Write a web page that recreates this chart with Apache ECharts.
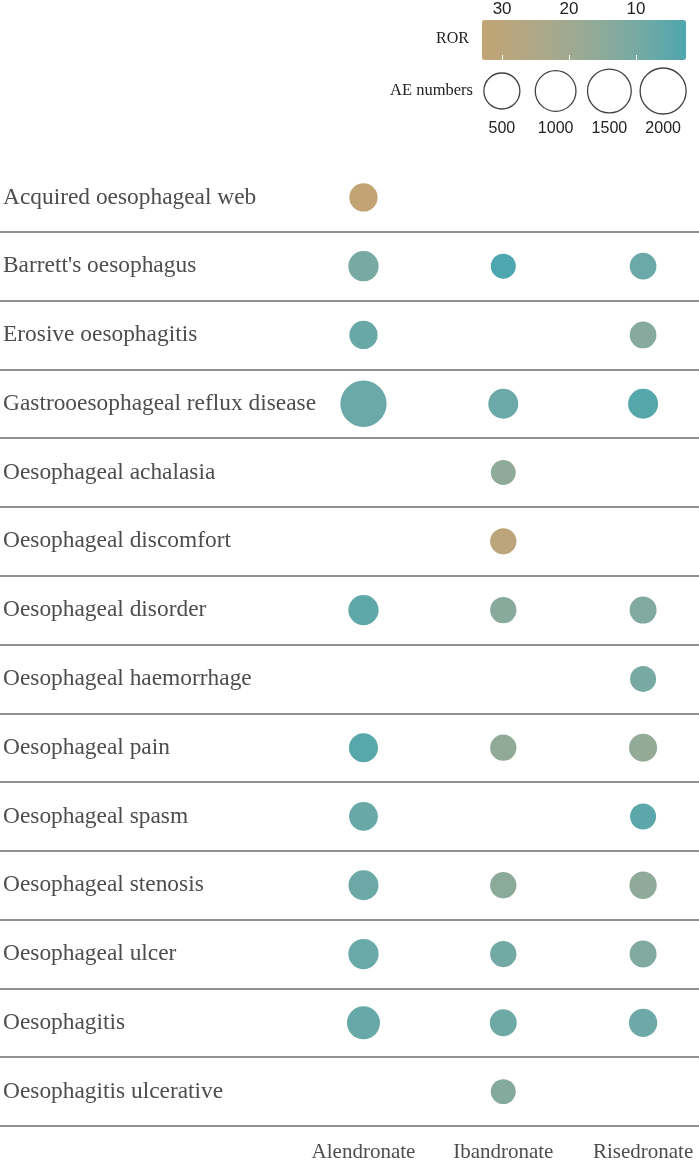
<!DOCTYPE html>
<html>
<head>
<meta charset="utf-8">
<script src="https://cdn.jsdelivr.net/npm/echarts@6/dist/echarts.min.js"></script>
<style>html,body{margin:0;padding:0;background:#fff}#c{width:699px;height:1163px}</style>
</head>
<body>
<div id="c"></div>
<script>
const categories = [
  "Acquired oesophageal web", "Barrett's oesophagus", "Erosive oesophagitis",
  "Gastrooesophageal reflux disease", "Oesophageal achalasia", "Oesophageal discomfort",
  "Oesophageal disorder", "Oesophageal haemorrhage", "Oesophageal pain",
  "Oesophageal spasm", "Oesophageal stenosis", "Oesophageal ulcer",
  "Oesophagitis", "Oesophagitis ulcerative"
];
const drugs = ["Alendronate", "Ibandronate", "Risedronate"];

// AE numbers per drug (null = no signal)
const aeAlendronate = [128, 189, 128, 2072, null, null, 189, null, 147, 139, 178, 189, 306, null];
const aeIbandronate = [null, 63, null, 178, 63, 85, 85, null, 85, null, 85, 85, 98, 63];
const aeRisedronate = [null, 92, 92, 178, null, null, 98, 80, 121, 80, 105, 98, 128, null];

// ROR per drug
const rorAlendronate = [33.0, 10.1, 7.2, 7.6, null, null, 5.6, null, 4.3, 7.2, 8.0, 7.4, 7.0, null];
const rorIbandronate = [null, 2.54, null, 7.6, 15.6, 30.5, 13.7, null, 16.0, null, 14.9, 9.0, 8.6, 13.0];
const rorRisedronate = [null, 7.6, 13.5, 3.8, null, null, 12.0, 10.1, 16.6, 5.0, 15.8, 12.0, 8.2, null];

const rorTicks = [10, 20, 30];
const sizeLegendValues = [500, 1000, 1500, 2000];

const aeByDrug = [aeAlendronate, aeIbandronate, aeRisedronate];
const rorByDrug = [rorAlendronate, rorIbandronate, rorRisedronate];

const points = [];
drugs.forEach((d, j) => {
  categories.forEach((c, i) => {
    if (aeByDrug[j][i] != null) points.push([j + 1, c, aeByDrug[j][i], rorByDrug[j][i]]);
  });
});
const sizeFn = n => 36 * Math.pow(n / 500, 0.177);

const serif = "Liberation Serif";
const sans = "Liberation Sans";

const chart = echarts.init(document.getElementById('c'), null, {renderer: 'canvas'});
chart.setOption({
  animation: false,
  backgroundColor: '#fff',
  grid: [
    {left: 0, right: 0, top: 163, bottom: 36, containLabel: false},
    {left: 475, width: 215, top: 70, height: 42},
    {left: 482, width: 204, top: 20, height: 40}
  ],
  xAxis: [
    {
      gridIndex: 0, type: 'value', min: -1.6, max: 3.4,
      axisLine: {show: false}, axisTick: {show: false}, splitLine: {show: false},
      axisLabel: {customValues: [1, 2, 3], formatter: v => drugs[Math.round(v) - 1] || '',
        fontFamily: serif, fontSize: 21, color: '#4d4d4d', margin: 16}
    },
    {
      gridIndex: 1, type: 'category', data: sizeLegendValues.map(String),
      axisLine: {show: false}, axisTick: {show: false}, splitLine: {show: false},
      axisLabel: {fontFamily: sans, fontSize: 16, color: '#222', margin: 9}
    },
    {
      gridIndex: 2, type: 'value', min: 2.54, max: 33, inverse: true, position: 'top', z: 20,
      axisLine: {show: false}, splitLine: {show: false},
      axisTick: {show: true, inside: false, length: 5, customValues: rorTicks, lineStyle: {color: '#fff', width: 1}},
      axisLabel: {customValues: rorTicks, fontFamily: sans, fontSize: 17, color: '#222', margin: 2}
    },
    {
      gridIndex: 2, type: 'value', min: 2.54, max: 33, inverse: true, position: 'bottom', z: 20,
      axisLine: {show: false}, splitLine: {show: false},
      axisTick: {show: true, inside: true, length: 5, customValues: rorTicks, lineStyle: {color: '#fff', width: 1}},
      axisLabel: {show: false}
    }
  ],
  yAxis: [
    {
      gridIndex: 0, type: 'category', data: categories, inverse: true,
      axisLine: {show: false}, axisTick: {show: false},
      axisLabel: {inside: true, interval: 0, margin: 3, fontFamily: serif, fontSize: 23.4, color: '#4d4d4d'},
      splitLine: {show: true, interval: 0, showMinLine: false, showMaxLine: true,
        lineStyle: {color: '#6e6e6e', width: 1.5}}
    },
    {gridIndex: 1, type: 'value', min: -1, max: 1, show: false},
    {gridIndex: 2, type: 'value', min: 0, max: 1, show: false}
  ],
  visualMap: [{
    type: 'continuous', seriesIndex: 0, dimension: 3, min: 2.54, max: 33,
    orient: 'horizontal', inverse: true, left: 482, top: 20, z: 1,
    itemWidth: 40, itemHeight: 204, calculable: false, hoverLink: false, padding: 0,
    text: null, showLabel: false,
    inRange: {color: ['#4ea6ae', '#78aaa3', '#98aa95', '#b0a886', '#c2a474']}
  }],
  series: [
    {
      type: 'scatter', xAxisIndex: 0, yAxisIndex: 0, data: points,
      symbolSize: v => sizeFn(v[2]), itemStyle: {opacity: 1}
    },
    {
      type: 'scatter', xAxisIndex: 1, yAxisIndex: 1,
      data: sizeLegendValues.map(v => [String(v), 0, v]),
      symbolSize: v => sizeFn(v[2]),
      itemStyle: {color: '#fff', borderColor: '#111', borderWidth: 1.3}
    }
  ],
  graphic: [
    {type: 'text', right: 699 - 469, top: 31, style: {text: 'ROR', font: '16px "Liberation Serif"', fill: '#222'}},
    {type: 'text', right: 699 - 473, top: 82, style: {text: 'AE numbers', font: '16.5px "Liberation Serif"', fill: '#222'}}
  ]
});
</script>
</body>
</html>
